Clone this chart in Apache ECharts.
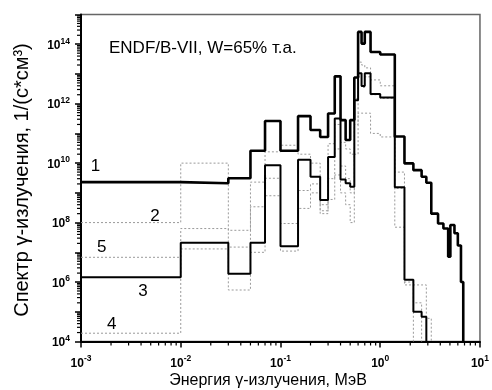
<!DOCTYPE html>
<html>
<head>
<meta charset="utf-8">
<script src="https://cdn.jsdelivr.net/npm/echarts@6/dist/echarts.min.js"></script>
<style>
  html, body { margin: 0; padding: 0; background: #fff; }
  #chart { width: 492px; height: 390px; }
</style>
</head>
<body>
<div id="chart"></div>
<script>
// Group boundaries, MeV
const edges = [0.001, 0.01, 0.03, 0.05, 0.07, 0.1, 0.15, 0.2, 0.25, 0.3, 0.35,
  0.4, 0.45, 0.5, 0.55, 0.6, 0.65, 0.7, 0.8, 1.0, 1.4, 1.75, 2.15, 2.6, 2.9,
  3.25, 3.8, 4.3, 4.8, 5.05, 5.55, 6.0, 6.45, 6.8];

// Group spectra, 1/(s*cm^3); each list runs from the first group and ends where the curve drops to the axis
const spectrum1 = [2.3e9, 2.1e9, 3.1e9, 2.6e10, 2.6e11, 2.6e10, 3.8e11, 1.3e11, 7.6e10, 4.7e11,
  8.3e12, 2.8e11, 6.0e10, 2.8e11, 7.6e12, 2.6e14, 1.05e14, 2.6e14, 5.5e13, 4.5e13,
  7.9e10, 9.8e9, 5.8e9, 3.5e9, 2.2e9, 2.0e8, 9.3e7, 6.3e7, 7.1e6, 8.3e7,
  4.4e7, 1.7e7, 1.0e6];
const spectrum2 = [1.0e8, 1.0e10, 5.5e7, 2.3e9, 2.4e10, 4.0e10, 2.0e10, 1.0e10, 4.0e8, 4.5e10,
  2.0e11, 5.0e10, 3.0e10, 2.0e10, 1.5e12, 2.5e13, 2.0e13, 1.6e13, 6.3e12, 4.0e12,
  5.0e9, 8.0e5, 8.0e5, 8.0e5, 6.0e4];
const spectrum3 = [1.45e6, 2.1e7, 1.9e6, 2.1e7, 8.5e9, 1.6e7, 1.3e10, 3.5e9, 5.8e8, 1.6e10,
  3.2e11, 2.8e9, 2.1e9, 1.6e9, 1.3e12, 1.05e13, 3.9e12, 1.05e13, 2.1e12, 1.6e12,
  1.55e9, 1.2e6, 1.0e5, 6.8e4];
const spectrum4 = [1.9e4, 1.3e7, 5.4e5, 1.0e7, 8.0e8, 1.1e7, 3.0e8, 1.0e9, 2.5e8, 6.0e8,
  4.0e9, 1.0e9, 4.0e8, 1.0e8, 2.0e10, 4.8e11, 4.8e11, 4.8e11, 1.0e11, 7.6e10,
  7.0e7, 1.0e6, 2.0e5];
const spectrum5 = [6.8e6, 6.3e7, 1.5e7, 3.4e8, 3.1e9, 9.3e7, 1.2e9, 2.0e9, 2.0e8, 3.0e9,
  3.0e10, 8.0e9, 3.0e9, 1.0e9, 2.0e11, 8.0e12, 3.5e12, 8.0e12, 2.0e12, 1.5e12,
  1.4e9, 1.2e6];

const X_MIN = 1e-3, X_MAX = 10;
const Y_MIN = 1e4, Y_MAX = 1e15;
const minorMantissas = [2, 3, 4, 5, 6, 7, 8, 9];

// Histogram outline: a flat run over every group, closed down to the axis at the end
function histogram(values) {
  const pts = [];
  values.forEach((v, i) => {
    pts.push([edges[i], v]);
    pts.push([edges[i + 1], v]);
  });
  pts.push([edges[values.length], Y_MIN]);
  return pts;
}

function minorTicks(lo, hi) {
  const out = [];
  for (let e = Math.round(Math.log10(lo)); Math.pow(10, e) < hi; e++) {
    minorMantissas.forEach(m => {
      const v = m * Math.pow(10, e);
      if (v > lo && v < hi) out.push(v);
    });
  }
  return out;
}

const FONT = 'Liberation Sans, Arial, sans-serif';

function powerLabel(value, everyOther) {
  const e = Math.round(Math.log10(value));
  if (everyOther && e % 2 !== 0) return '';
  return '{b|10}{s|' + e + '}';
}

const labelRich = {
  b: { fontFamily: FONT, fontWeight: 'bold', fontSize: 12, color: '#000', lineHeight: 15, verticalAlign: 'bottom' },
  s: { fontFamily: FONT, fontWeight: 'bold', fontSize: 8.5, color: '#000', lineHeight: 15, verticalAlign: 'top' }
};

const chart = echarts.init(document.getElementById('chart'), null, { renderer: 'canvas' });

const dotted = { color: '#9a9a9a', width: 1, type: [2, 2] };

function stepSeries(name, values, lineStyle, z) {
  return {
    name, type: 'line', data: histogram(values), showSymbol: false, symbol: 'none',
    lineStyle, z, animation: false, silent: true
  };
}

// Short outward log-minor ticks drawn through the axis scales
function tickSeries(values, vertical) {
  return {
    type: 'custom', coordinateSystem: 'cartesian2d', clip: false, silent: true, z: 5,
    animation: false,
    data: values.map(v => vertical ? [X_MIN, v] : [v, Y_MIN]),
    renderItem(params, api) {
      const p = api.coord([api.value(0), api.value(1)]);
      const shape = vertical
        ? { x1: p[0] - 1, y1: p[1], x2: p[0] - 4, y2: p[1] }
        : { x1: p[0], y1: p[1] + 1, x2: p[0], y2: p[1] + 4 };
      return { type: 'line', shape, style: { stroke: '#000', lineWidth: 1.2 } };
    }
  };
}

const axisCommon = {
  type: 'log', logBase: 10, interval: 1,
  axisLine: { show: true, lineStyle: { color: '#000', width: 2 } },
  axisTick: { show: true, length: 6, lineStyle: { color: '#000', width: 1.5 } },
  splitLine: { show: false }
};

chart.setOption({
  animation: false,
  backgroundColor: '#fff',
  grid: { left: 81, right: 9, top: 14.5, bottom: 48.5, show: true, borderColor: '#666', borderWidth: 1.5 },
  xAxis: Object.assign({}, axisCommon, {
    min: X_MIN, max: X_MAX,
    axisLabel: { formatter: v => powerLabel(v, false), rich: labelRich, margin: 13 }
  }),
  yAxis: Object.assign({}, axisCommon, {
    min: Y_MIN, max: Y_MAX,
    axisLabel: { formatter: v => powerLabel(v, true), rich: labelRich, margin: 11 }
  }),
  series: [
    stepSeries('4', spectrum4, dotted, 2),
    stepSeries('5', spectrum5, dotted, 2),
    stepSeries('2', spectrum2, dotted, 2),
    stepSeries('3', spectrum3, { color: '#000', width: 2 }, 3),
    stepSeries('1', spectrum1, { color: '#000', width: 2.6 }, 4),
    tickSeries(minorTicks(X_MIN, X_MAX), false),
    tickSeries(minorTicks(Y_MIN, Y_MAX), true)
  ],
  graphic: [
    { type: 'text', left: 109, top: 40, silent: true,
      style: { text: 'ENDF/B-VII, W=65% т.а.', font: '17px ' + FONT, fill: '#000' } },
    { type: 'text', x: 95.5, y: 166.5, silent: true,
      style: { text: '1', font: '17px ' + FONT, fill: '#000', align: 'center', verticalAlign: 'middle' } },
    { type: 'text', x: 155, y: 216.5, silent: true,
      style: { text: '2', font: '17px ' + FONT, fill: '#000', align: 'center', verticalAlign: 'middle' } },
    { type: 'text', x: 101.7, y: 247.5, silent: true,
      style: { text: '5', font: '17px ' + FONT, fill: '#000', align: 'center', verticalAlign: 'middle' } },
    { type: 'text', x: 143, y: 291, silent: true,
      style: { text: '3', font: '17px ' + FONT, fill: '#000', align: 'center', verticalAlign: 'middle' } },
    { type: 'text', x: 111.7, y: 324, silent: true,
      style: { text: '4', font: '17px ' + FONT, fill: '#000', align: 'center', verticalAlign: 'middle' } },
    { type: 'text', x: 268, y: 381, silent: true,
      style: { text: 'Энергия γ-излучения, МэВ', font: '16px ' + FONT, fill: '#000', align: 'center', verticalAlign: 'middle' } },
    { type: 'text', x: 22, y: 180, rotation: Math.PI / 2, silent: true,
      style: { text: 'Спектр γ-излучения, 1/(с*см³)', font: '20px ' + FONT, fill: '#000', align: 'center', verticalAlign: 'middle' } }
  ]
});
</script>
</body>
</html>
